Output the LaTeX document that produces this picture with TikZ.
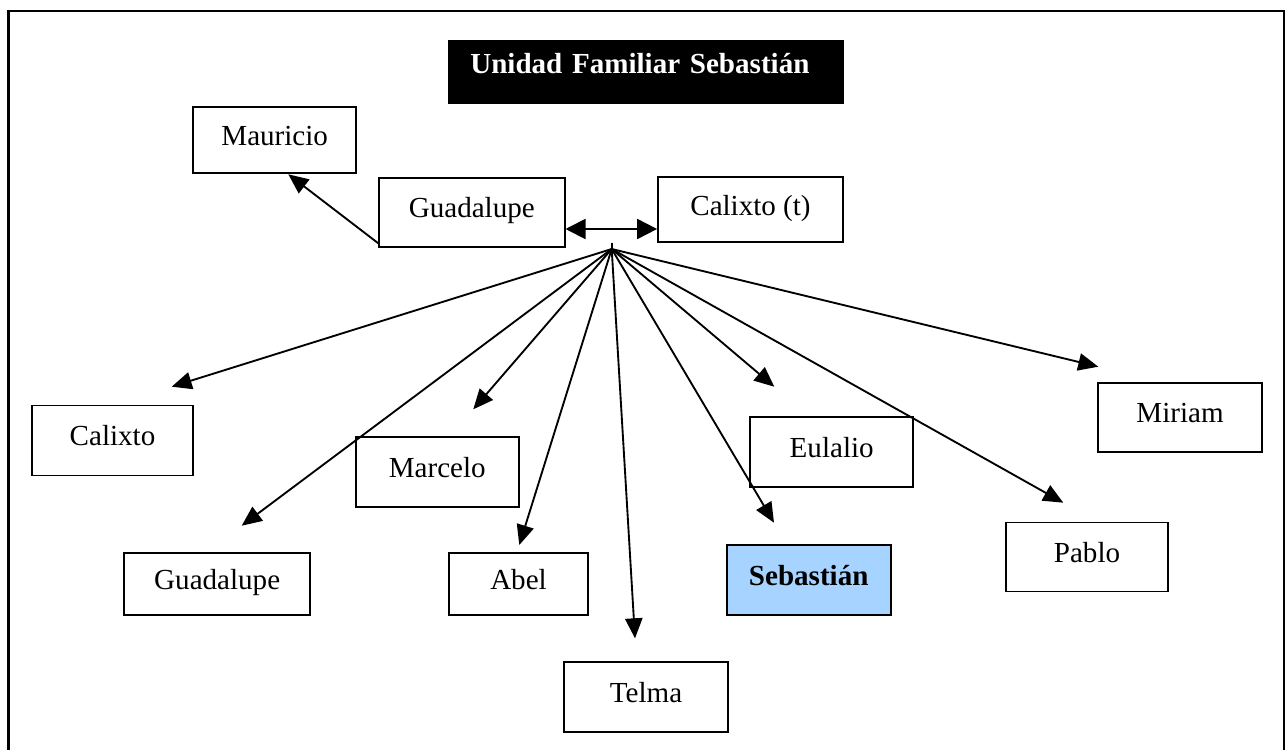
\documentclass[tikz,border=0pt]{standalone}
\usepackage{fontspec}
\setmainfont{Liberation Serif}
\usetikzlibrary{arrows.meta}
\definecolor{sebblue}{RGB}{166,211,255}
\tikzset{
  person/.style={draw, line width=1.3pt, inner sep=0pt, text height=15pt, text depth=7pt, font=\fontsize{21.8}{26}\selectfont},
  sz/.style 2 args={minimum width=#1*0.75pt, minimum height=#2*0.75pt},
  link/.style={line width=1.4pt, -{Triangle[length=15pt,width=13pt]}},
  biarrow/.style={line width=1.4pt, {Triangle[length=15pt,width=15pt]}-{Triangle[length=15pt,width=15pt]}},
}
\begin{document}
\begin{tikzpicture}[x=0.75pt,y=-0.75pt]
\useasboundingbox (0,0) rectangle (1286,750);
\begin{scope}
  \clip (0,0) rectangle (1286,750);
  \draw[line width=2pt] (8.5,11) rectangle (1284,780);
\end{scope}

% title
\node[fill=black, text=white, font=\fontsize{21.8}{26}\selectfont\bfseries, sz={396}{64},
      inner xsep=16.3pt, inner ysep=0pt, text width=264pt, align=left,
      text height=15pt, text depth=13pt] (title) at (646.3,72) {Unidad Familiar Sebastián};

% persons
\node[person, sz={162.7}{66.7}] (mauricio) at (274.7,140) {Mauricio};
\node[person, sz={185.7}{69}] (gtop) at (471.8,212.5) {Guadalupe};
\node[person, sz={185}{65}] (calt) at (750.5,209.8) {Calixto (t)};
\node[person, sz={161.7}{70}] (calixto) at (112.5,440.5) {Calixto};
\node[person, sz={185.7}{62.3}] (gbot) at (217.2,583.8) {Guadalupe};
\node[person, sz={163.3}{70}] (marcelo) at (437.3,471.7) {Marcelo};
\node[person, sz={139.7}{62.3}] (abel) at (518.5,583.8) {Abel};
\node[person, sz={163.3}{70}] (telma) at (646,696.7) {Telma};
\node[person, sz={164}{70}, fill=sebblue, font=\fontsize{21.8}{26}\selectfont\bfseries] (seb) at (808.7,580) {Sebastián};
\node[person, sz={163.3}{70}] (eulalio) at (831.7,451.7) {Eulalio};
\node[person, sz={163.3}{69.7}] (miriam) at (1180,417.5) {Miriam};
\node[person, sz={162.3}{69}] (pablo) at (1087,557) {Pablo};

% coordinates
\coordinate (hub) at (611.7,249);
\coordinate (hubtop) at (611.7,242.7);
\coordinate (dy) at (600,229);
\coordinate (mstart) at (378.3,243.3);
\coordinate (tMau) at (288.3,174.3);
\coordinate (tCal) at (171.7,386.7);
\coordinate (tGb) at (241.7,525.7);
\coordinate (tMar) at (473.3,409.3);
\coordinate (tAbel) at (519.3,545);
\coordinate (tTel) at (635,638.3);
\coordinate (tSeb) at (774,522.7);
\coordinate (tEul) at (774.3,386.7);
\coordinate (tPab) at (1063.3,502.7);
\coordinate (tMir) at (1098.3,366.7);

% connectors
\draw[biarrow] (gtop.east |- dy) -- (calt.west |- dy);
\draw[line width=1.4pt] (hubtop) -- (hub);
\draw[link] (mstart) -- (tMau);
\draw[link] (hub) -- (tCal);
\draw[link] (hub) -- (tGb);
\draw[link] (hub) -- (tMar);
\draw[link] (hub) -- (tAbel);
\draw[link] (hub) -- (tTel);
\draw[link] (hub) -- (tSeb);
\draw[link] (hub) -- (tEul);
\draw[link] (hub) -- (tPab);
\draw[link] (hub) -- (tMir);
\end{tikzpicture}
\end{document}
